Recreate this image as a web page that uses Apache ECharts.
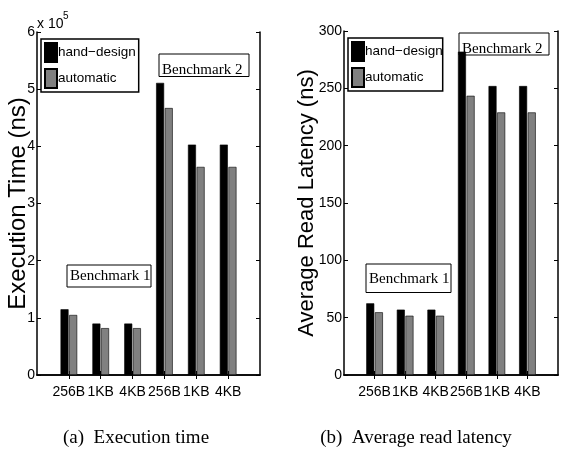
<!DOCTYPE html>
<html>
<head>
<meta charset="utf-8">
<script src="https://cdn.jsdelivr.net/npm/echarts/dist/echarts.min.js"></script>
<style>
  html, body { margin: 0; padding: 0; background: #fff; }
  #chart { width: 561px; height: 458px; }
</style>
</head>
<body>
<div id="chart"></div>
<script>
// bar groups, benchmark 1 then benchmark 2
let categories = ['256B', '1KB', '4KB', '256B', '1KB', '4KB'];
let seriesNames = ['hand\u2212design', 'automatic'];

// execution time (ns)
let execHand = [115000, 90000, 90000, 511000, 403000, 403000];
let execAuto = [105000, 82000, 82000, 467000, 364000, 364000];

// average read latency (ns)
let latHand = [62.5, 57, 57, 282, 252, 252];
let latAuto = [54.7, 51.7, 51.7, 243.5, 229, 229];

let execTicks = [0, 1, 2, 3, 4, 5, 6];   // x 10^5
let latTicks = [0, 50, 100, 150, 200, 250, 300];

let sansFont = 'Liberation Sans';
let serifFont = 'Liberation Serif';

// matlab puts an empty slot at both ends of the x axis
let pad = arr => [null].concat(arr, [null]);
let xData = pad(categories).map(c => c === null ? '' : c);

let frameX = (gridIndex, top) => ({
    type: 'category',
    gridIndex: gridIndex,
    position: top ? 'top' : 'bottom',
    data: xData,
    boundaryGap: false,
    axisLine: { show: true, lineStyle: { color: '#000', width: 1.5 } },
    axisTick: {
        show: true, inside: true, length: 4,
        interval: (i) => i > 0 && i < xData.length - 1,
        lineStyle: { color: '#000', width: 1 }
    },
    axisLabel: {
        show: !top, interval: 0, margin: 10,
        color: '#000', fontFamily: sansFont, fontSize: 14
    },
    splitLine: { show: false }
});

let frameY = (gridIndex, ticks, right, scale, name, nameSize, nameGap) => ({
    type: 'value',
    gridIndex: gridIndex,
    position: right ? 'right' : 'left',
    min: ticks[0] * scale,
    max: ticks[ticks.length - 1] * scale,
    interval: (ticks[1] - ticks[0]) * scale,
    name: right ? '' : name,
    nameLocation: 'middle',
    nameGap: nameGap,
    nameMoveOverlap: false,
    nameTextStyle: { color: '#000', fontFamily: sansFont, fontSize: nameSize },
    axisLine: { show: true, lineStyle: { color: '#000', width: 1.5 } },
    axisTick: { show: true, inside: true, length: 4, lineStyle: { color: '#000', width: 1 } },
    axisLabel: {
        show: !right, margin: 2, color: '#000',
        fontFamily: sansFont, fontSize: 14,
        formatter: (v) => String(v / scale)
    },
    splitLine: { show: false }
});

let barSeries = (name, data, axisIndex, color) => ({
    name: name,
    type: 'bar',
    xAxisIndex: axisIndex,
    yAxisIndex: axisIndex,
    data: pad(data),
    barWidth: 8,
    barGap: '8%',
    itemStyle: { color: color, borderColor: '#000', borderWidth: 0.6 },
    emphasis: { disabled: true },
    animation: false
});

let legendAt = (left, top, rightPad) => ({
    orient: 'vertical',
    left: left,
    top: top,
    data: seriesNames,
    icon: 'rect',
    itemWidth: 12,
    itemHeight: 19,
    itemGap: 5,
    padding: [3, rightPad, 3, 3],
    backgroundColor: '#fff',
    borderColor: '#000',
    borderWidth: 1.5,
    borderRadius: 0,
    selectedMode: false,
    textStyle: { color: '#000', fontFamily: sansFont, fontSize: 13.5, padding: [0, 0, 0, -4] }
});

let textBox = (x, y, w, h, label, textY) => ({
    type: 'group',
    z: 100,
    children: [
        {
            type: 'rect',
            shape: { x: x, y: y, width: w, height: h },
            style: { fill: '#fff', stroke: '#000', lineWidth: 1 }
        },
        {
            type: 'text',
            x: x + 3,
            y: textY,
            style: {
                text: label, fill: '#000',
                font: '15px "' + serifFont + '"',
                textVerticalAlign: 'middle'
            }
        }
    ]
});

let caption = (x, label) => ({
    type: 'text',
    x: x,
    y: 438,
    style: {
        text: label, fill: '#000',
        font: '19px "' + serifFont + '"',
        textAlign: 'center', textVerticalAlign: 'middle'
    }
});

let option = {
    backgroundColor: '#fff',
    animation: false,
    grid: [
        { left: 37, top: 32, width: 223, height: 343 },
        { left: 344, top: 31, width: 215, height: 344 }
    ],
    xAxis: [
        frameX(0, false),
        frameX(1, false),
        frameX(0, true),
        frameX(1, true)
    ],
    yAxis: [
        frameY(0, execTicks, false, 100000, 'Execution Time (ns)', 24, 7),
        frameY(1, latTicks, false, 1, 'Average Read Latency (ns)', 22, 26),
        frameY(0, execTicks, true, 100000, '', 0, 0),
        frameY(1, latTicks, true, 1, '', 0, 0)
    ],
    legend: [
        legendAt(41, 39, 3),
        legendAt(348, 38, 0)
    ],
    series: [
        barSeries(seriesNames[0], execHand, 0, '#000'),
        barSeries(seriesNames[1], execAuto, 0, '#808080'),
        barSeries(seriesNames[0], latHand, 1, '#000'),
        barSeries(seriesNames[1], latAuto, 1, '#808080')
    ],
    graphic: [
        textBox(159, 54, 90, 22.5, 'Benchmark 2', 70),
        textBox(67, 265, 84, 22, 'Benchmark 1', 276),
        textBox(459, 33, 90, 22, 'Benchmark 2', 49),
        textBox(366, 264, 85, 28.5, 'Benchmark 1', 279),
        {
            type: 'text', x: 37, y: 24, z: 100,
            style: { text: 'x 10', fill: '#000', font: '14px "' + sansFont + '"', textVerticalAlign: 'middle' }
        },
        {
            type: 'text', x: 63, y: 16, z: 100,
            style: { text: '5', fill: '#000', font: '10px "' + sansFont + '"', textVerticalAlign: 'middle' }
        },
        caption(136, '(a)  Execution time'),
        caption(416, '(b)  Average read latency')
    ]
};

let chart = echarts.init(document.getElementById('chart'), null, { renderer: 'canvas' });
chart.setOption(option);
</script>
</body>
</html>
